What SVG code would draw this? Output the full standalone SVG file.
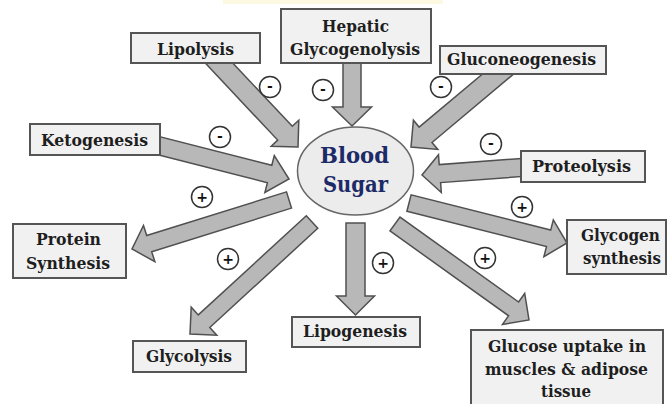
<svg xmlns="http://www.w3.org/2000/svg" width="667" height="404" viewBox="0 0 667 404">
<style>
.arrow{fill:#b8b8b8;stroke:#505050;stroke-width:1.5;stroke-linejoin:miter}
.box{fill:#f1f1f1;stroke:#555;stroke-width:2}
.lbl{font-family:"DejaVu Serif","Liberation Serif",serif;font-weight:bold;font-size:16px;fill:#1e1e1e;text-anchor:middle}
.core{font-family:"DejaVu Serif","Liberation Serif",serif;font-weight:bold;font-size:23px;fill:#1c2a68;text-anchor:middle}
.sign circle{fill:#fff;stroke:#333;stroke-width:1.5}
.sign text{font-family:"DejaVu Sans","Liberation Sans",sans-serif;font-weight:bold;font-size:14px;fill:#111;text-anchor:middle;dominant-baseline:central}
</style>
<rect x="223" y="0" width="220" height="4" fill="#fdf8e2"/>
<g id="connectors">
<polygon class="arrow" points="206.2,64.1 277.7,140.1 271.2,146.2 298,147 298.8,120.2 292.3,126.3 220.8,50.4"/>
<polygon class="arrow" points="343,58 343,107 332.5,107 352,126 371.5,107 361,107 361,58"/>
<polygon class="arrow" points="503.1,56.7 419.1,127.1 413.4,120.2 411,147 437.8,149.4 432.0,142.5 515.9,72.1"/>
<polygon class="arrow" points="150.0,152.7 267.4,182.7 264.9,192.4 289,179 274.3,155.6 271.8,165.3 154.4,135.3"/>
<polygon class="arrow" points="528.3,157.9 439.2,164.6 438.5,154.7 422,175 441.3,192.5 440.6,182.6 529.7,175.9"/>
<polygon class="arrow" points="286.5,191.9 146.7,235.5 143.5,225.5 132,249 154.9,261.7 151.7,251.7 291.5,208.1"/>
<polygon class="arrow" points="306.3,215.7 198.3,314.9 191.2,307.2 190,334 216.8,335.2 209.8,327.5 317.8,228.3"/>
<polygon class="arrow" points="346,223 346,296 336.5,296 355.5,315 374.5,296 365,296 365,223"/>
<polygon class="arrow" points="406.9,211.2 546.5,246.5 543.9,256.7 567,243 553.3,219.9 550.7,230.1 411.1,194.8"/>
<polygon class="arrow" points="390.0,230.9 508.6,315.8 502.5,324.4 529,320 524.7,293.5 518.6,302.0 400.0,217.1"/>
</g>
<g id="signs">
<g class="sign"><circle cx="270" cy="87" r="10.5"/><text x="270" y="86">-</text></g>
<g class="sign"><circle cx="323" cy="90" r="10.5"/><text x="323" y="89">-</text></g>
<g class="sign"><circle cx="441" cy="87" r="10.5"/><text x="441" y="86">-</text></g>
<g class="sign"><circle cx="220" cy="137" r="10.5"/><text x="220" y="136">-</text></g>
<g class="sign"><circle cx="491" cy="144" r="10.5"/><text x="491" y="143">-</text></g>
<g class="sign"><circle cx="202" cy="197" r="10.5"/><text x="202" y="197">+</text></g>
<g class="sign"><circle cx="228" cy="259" r="10.5"/><text x="228" y="259">+</text></g>
<g class="sign"><circle cx="383" cy="263" r="10.5"/><text x="383" y="263">+</text></g>
<g class="sign"><circle cx="522" cy="207" r="10.5"/><text x="522" y="207">+</text></g>
<g class="sign"><circle cx="485" cy="258" r="10.5"/><text x="485" y="258">+</text></g>
</g>
<g id="lipolysis"><rect class="box" x="131" y="33" width="129" height="30"/><text class="lbl" x="195.5" y="55" textLength="77" lengthAdjust="spacingAndGlyphs">Lipolysis</text></g>
<g id="hepatic"><rect class="box" x="281" y="9" width="150" height="54"/><text class="lbl" x="355.5" y="32" textLength="67" lengthAdjust="spacingAndGlyphs">Hepatic</text><text class="lbl" x="355" y="55" textLength="130" lengthAdjust="spacingAndGlyphs">Glycogenolysis</text></g>
<g id="gluconeogenesis"><rect class="box" x="440" y="46" width="166" height="28"/><text class="lbl" x="521.5" y="65" textLength="149" lengthAdjust="spacingAndGlyphs">Gluconeogenesis</text></g>
<g id="ketogenesis"><rect class="box" x="30" y="124" width="130" height="31"/><text class="lbl" x="94.5" y="146" textLength="107" lengthAdjust="spacingAndGlyphs">Ketogenesis</text></g>
<g id="proteolysis"><rect class="box" x="521" y="151" width="124" height="31"/><text class="lbl" x="581.5" y="172" textLength="99" lengthAdjust="spacingAndGlyphs">Proteolysis</text></g>
<g id="protein-synthesis"><rect class="box" x="13" y="224" width="113" height="54"/><text class="lbl" x="68.5" y="245" textLength="65" lengthAdjust="spacingAndGlyphs">Protein</text><text class="lbl" x="68" y="269" textLength="84" lengthAdjust="spacingAndGlyphs">Synthesis</text></g>
<g id="glycogen-synthesis"><rect class="box" x="567" y="220" width="99" height="54"/><text class="lbl" x="620.5" y="241" textLength="79" lengthAdjust="spacingAndGlyphs">Glycogen</text><text class="lbl" x="622" y="264" textLength="78" lengthAdjust="spacingAndGlyphs">synthesis</text></g>
<g id="glycolysis"><rect class="box" x="133" y="341" width="113" height="31"/><text class="lbl" x="189" y="362" textLength="86" lengthAdjust="spacingAndGlyphs">Glycolysis</text></g>
<g id="lipogenesis"><rect class="box" x="292" y="317" width="128" height="30"/><text class="lbl" x="355" y="337" textLength="104" lengthAdjust="spacingAndGlyphs">Lipogenesis</text></g>
<g id="glucose-uptake"><rect class="box" x="471" y="330" width="192" height="80"/><text class="lbl" x="567" y="352" textLength="158" lengthAdjust="spacingAndGlyphs">Glucose uptake in</text><text class="lbl" x="566.5" y="375" textLength="163" lengthAdjust="spacingAndGlyphs">muscles &amp; adipose</text><text class="lbl" x="566" y="397" textLength="50" lengthAdjust="spacingAndGlyphs">tissue</text></g>
<g id="blood-sugar"><ellipse cx="355.5" cy="171" rx="58" ry="44" fill="#ececec" stroke="#666" stroke-width="1.5"/><text class="core" x="354.5" y="163" textLength="69" lengthAdjust="spacingAndGlyphs">Blood</text><text class="core" x="355.5" y="192" textLength="65" lengthAdjust="spacingAndGlyphs">Sugar</text></g>
</svg>
